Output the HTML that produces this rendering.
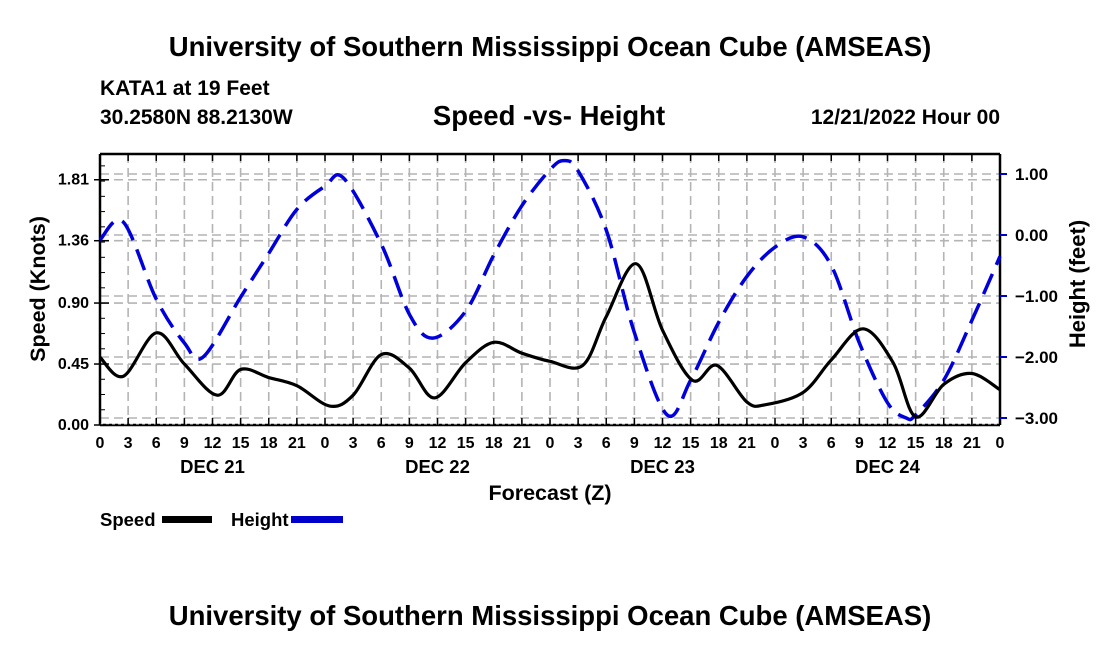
<!DOCTYPE html>
<html><head><meta charset="utf-8"><style>
body{margin:0;background:#fff;}
svg text{font-family:"Liberation Sans",sans-serif;font-weight:bold;fill:#000;}
</style></head><body>
<svg id="chart" width="1100" height="650" viewBox="0 0 1100 650" xmlns="http://www.w3.org/2000/svg">
<text x="550" y="56" font-size="27.5" text-anchor="middle">University of Southern Mississippi Ocean Cube (AMSEAS)</text>
<text x="100" y="95" font-size="21">KATA1 at 19 Feet</text>
<text x="100" y="124" font-size="21">30.2580N  88.2130W</text>
<text x="549" y="125" font-size="27.5" text-anchor="middle">Speed -vs- Height</text>
<text x="1000" y="124" font-size="21" text-anchor="end">12/21/2022 Hour 00</text>
<g id="grid"></g>
<g id="axes"></g>
<g id="series"></g>
<text x="550" y="500" font-size="21.5" text-anchor="middle">Forecast (Z)</text>
<text transform="translate(45,289) rotate(-90)" font-size="21.5" text-anchor="middle">Speed (Knots)</text>
<text transform="translate(1085,284) rotate(-90)" font-size="22" text-anchor="middle">Height (feet)</text>
<g>
<text x="100" y="526" font-size="18.5">Speed</text>
<rect x="162" y="516" width="50" height="7" fill="#000"/>
<text x="231" y="526" font-size="18.5">Height</text>
<rect x="291" y="516" width="52" height="7" fill="#0000cc"/>
<line x1="292" y1="519.5" x2="342" y2="519.5" stroke="#000066" stroke-width="1" stroke-dasharray="10 6"/>
</g>
<text x="550" y="625" font-size="27.5" text-anchor="middle">University of Southern Mississippi Ocean Cube (AMSEAS)</text>
</svg>
<script>
const speedHours=[0,2.5,6,9,12.5,15,18,21,24.5,27,30,33,35.7,39,42,45,48,51.5,54,57.2,60,63.2,65.8,69,71,75,78,81.4,84.6,87,90,93,96];
const speedValues=[0.50,0.36,0.68,0.45,0.22,0.41,0.35,0.29,0.14,0.22,0.52,0.42,0.20,0.46,0.61,0.53,0.47,0.44,0.80,1.19,0.70,0.33,0.44,0.17,0.15,0.24,0.48,0.71,0.46,0.06,0.30,0.38,0.26];
const heightHours=[0,2.5,6,9,11,15,18,21,24,26,30,33,35.5,39,42,45,48,49.5,51,54,57,60.5,63,66,69,72,75,78,81,84,86,87,90,93,96];
const heightValues=[-0.08,0.21,-1.05,-1.77,-2.0,-1.02,-0.3,0.42,0.8,0.93,-0.15,-1.3,-1.69,-1.25,-0.33,0.48,1.07,1.22,1.05,0.08,-1.6,-2.95,-2.38,-1.43,-0.68,-0.2,-0.03,-0.5,-1.77,-2.75,-3.0,-2.95,-2.38,-1.4,-0.35];
const speedTicks=[0,0.45,0.90,1.36,1.81];
const speedTickLabels=["0.00","0.45","0.90","1.36","1.81"];
const heightTicks=[1,0,-1,-2,-3];
const heightTickLabels=["1.00","0.00","\u22121.00","\u22122.00","\u22123.00"];
const hourTickLabels=["0","3","6","9","12","15","18","21"];
const dayLabels=["DEC 21","DEC 22","DEC 23","DEC 24"];

const L=100,R=1000,T=154,B=425;
const xs=h=>L+h*(R-L)/96;
const ys=v=>B-v*(B-T)/2.0;
const yh=v=>235-v*61;
const NS="http://www.w3.org/2000/svg";
function mk(tag,attrs,parent){const e=document.createElementNS(NS,tag);for(const k in attrs)e.setAttribute(k,attrs[k]);parent.appendChild(e);return e;}
const grid=document.getElementById('grid'),axes=document.getElementById('axes'),series=document.getElementById('series');
const gs={stroke:"#b4b4b4","stroke-width":1.6,"stroke-dasharray":"9 5",fill:"none"};
for(let h=3;h<96;h+=3){const l=mk('line',Object.assign({x1:xs(h),x2:xs(h),y1:T,y2:B},gs),grid);

}
speedTicks.forEach(v=>{if(v===0)return;const l=mk('line',Object.assign({x1:L,x2:R,y1:ys(v),y2:ys(v)},gs),grid);

});
heightTicks.forEach(v=>{const l=mk('line',Object.assign({x1:L,x2:R,y1:yh(v),y2:yh(v)},gs),grid);

});
mk('line',{x1:L,x2:R,y1:T,y2:T,stroke:"#000","stroke-width":2.5},axes);
mk('line',{x1:L,x2:L,y1:T,y2:B,stroke:"#000","stroke-width":2.5},axes);
mk('line',{x1:R,x2:R,y1:T,y2:B,stroke:"#000","stroke-width":2.5},axes);
mk('line',{x1:L,x2:R,y1:B,y2:B,stroke:"#000","stroke-width":2.5},axes);
mk('line',{x1:L,x2:R,y1:B-1,y2:B-1,stroke:"#fff","stroke-width":0.8,"stroke-dasharray":"3 3"},axes);
for(let h=0;h<=96;h+=3){
 mk('line',{x1:xs(h),x2:xs(h),y1:T,y2:T+7,stroke:"#000","stroke-width":1.5},axes);
 mk('line',{x1:xs(h),x2:xs(h),y1:B,y2:B-7,stroke:"#000","stroke-width":1.5},axes);
 const t=mk('text',{x:xs(h),y:B+23,"font-size":16,"text-anchor":"middle"},axes);
 t.textContent=hourTickLabels[(h/3)%8];
 
 
}
dayLabels.forEach((d,i)=>{const t=mk('text',{x:xs(12+24*i),y:B+48,"font-size":18.5,"text-anchor":"middle"},axes);t.textContent=d;

});
for(let v=0;v<=2.0;v+=0.1125){mk('line',{x1:L,x2:L+5,y1:ys(v),y2:ys(v),stroke:"#000","stroke-width":1},axes);}
speedTicks.forEach((v,i)=>{mk('line',{x1:L-6,x2:L+9,y1:ys(v),y2:ys(v),stroke:"#000","stroke-width":1.5},axes);
const t=mk('text',{x:L-11,y:ys(v)+5,"font-size":16,"text-anchor":"end"},axes);t.textContent=speedTickLabels[i];

});
heightTicks.forEach((v,i)=>{mk('line',{x1:R,x2:R+7,y1:yh(v),y2:yh(v),stroke:"#0000cc","stroke-width":2},axes);
const t=mk('text',{x:R+15,y:yh(v)+6,"font-size":17},axes);t.textContent=heightTickLabels[i];

});
function path(pts){let d=`M${pts[0][0]},${pts[0][1]}`;
 for(let i=0;i<pts.length-1;i++){const p0=pts[Math.max(0,i-1)],p1=pts[i],p2=pts[i+1],p3=pts[Math.min(pts.length-1,i+2)];
 const c1=[p1[0]+(p2[0]-p0[0])/6,p1[1]+(p2[1]-p0[1])/6],c2=[p2[0]-(p3[0]-p1[0])/6,p2[1]-(p3[1]-p1[1])/6];
 d+=` C${c1[0]},${c1[1]} ${c2[0]},${c2[1]} ${p2[0]},${p2[1]}`;}return d;}
const hp=mk('path',{d:path(heightHours.map((h,i)=>[xs(h),yh(heightValues[i])])),stroke:"#0000dd","stroke-width":3.5,fill:"none","stroke-dasharray":"22 10"},series);


const sp=mk('path',{d:path(speedHours.map((h,i)=>[xs(h),ys(speedValues[i])])),stroke:"#000","stroke-width":3.2,fill:"none","stroke-linejoin":"round"},series);


</script>
</body></html>
